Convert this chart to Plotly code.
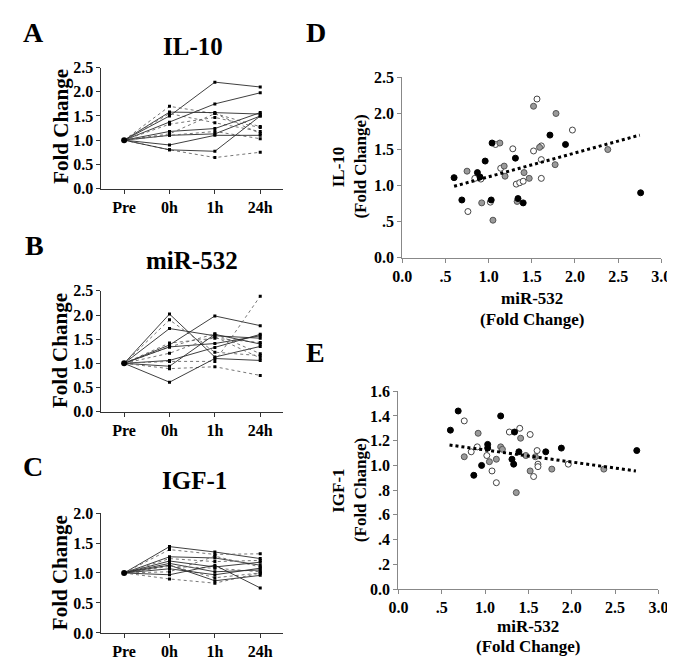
import plotly.graph_objects as go

W, H = 675, 669
FONT = "Liberation Serif"

# ---------------- data ----------------
timepoints = ["Pre", "0h", "1h", "24h"]

# Panel A: IL-10 fold change per subject (Pre = 1.0)
il10_0h = [1.50, 1.70, 1.58, 1.55, 1.37, 1.33, 1.18, 1.13, 1.10, 1.10, 0.90, 0.80, 0.80]
il10_1h = [2.20, 1.55, 1.57, 1.36, 1.75, 1.47, 1.24, 1.55, 1.13, 1.18, 1.10, 0.64, 0.77]
il10_24h = [2.10, 1.28, 1.54, 1.18, 1.98, 1.26, 1.57, 1.14, 1.50, 1.03, 1.10, 0.75, 1.50]

# Panel B: miR-532
mir_0h = [2.02, 1.90, 1.72, 1.42, 1.38, 1.34, 1.34, 1.21, 1.06, 1.04, 0.94, 0.89, 0.61]
mir_1h = [1.13, 1.23, 1.57, 1.52, 1.98, 1.61, 1.41, 1.55, 1.33, 1.04, 1.60, 0.93, 1.10]
mir_24h = [1.35, 1.16, 1.52, 1.43, 1.78, 1.20, 1.57, 1.11, 1.60, 2.39, 1.40, 0.75, 1.06]

# Panel C: IGF-1
igf_0h = [1.44, 1.39, 1.27, 1.24, 1.16, 1.13, 1.13, 1.11, 1.07, 1.02, 0.97, 0.90, 1.20]
igf_1h = [1.35, 1.31, 1.25, 1.19, 1.02, 0.92, 0.87, 1.08, 0.97, 1.28, 1.13, 0.83, 1.10]
igf_24h = [1.24, 1.32, 1.13, 1.21, 1.05, 1.00, 0.96, 1.02, 1.08, 1.10, 0.75, 1.00, 1.18]

# Panel D: miR-532 (x) vs IL-10 (y), three groups
d_black_x = [0.60, 0.69, 0.87, 0.90, 0.96, 1.03, 1.04, 1.31, 1.34, 1.40, 1.71, 1.89, 2.76]
d_black_y = [1.11, 0.80, 1.18, 1.12, 1.34, 0.80, 1.59, 1.38, 0.82, 0.76, 1.70, 1.57, 0.90]
d_gray_x = [0.75, 0.92, 1.05, 1.13, 1.18, 1.19, 1.33, 1.41, 1.47, 1.52, 1.59, 1.77, 1.78, 2.38]
d_gray_y = [1.20, 0.76, 0.52, 1.59, 1.27, 1.13, 0.78, 1.18, 1.10, 2.10, 1.53, 1.29, 2.00, 1.50]
d_open_x = [0.76, 0.84, 0.91, 1.02, 1.08, 1.14, 1.28, 1.32, 1.36, 1.40, 1.52, 1.56, 1.61, 1.61, 1.61, 1.97]
d_open_y = [0.64, 1.10, 1.09, 0.77, 1.57, 1.24, 1.51, 1.02, 1.04, 1.06, 1.48, 2.20, 1.55, 1.36, 1.10, 1.77]
d_trend_x = [0.60, 2.75]
d_trend_y = [0.99, 1.70]

# Panel E: miR-532 (x) vs IGF-1 (y)
e_black_x = [0.60, 0.69, 0.87, 0.96, 1.03, 1.03, 1.18, 1.31, 1.33, 1.34, 1.39, 1.70, 1.88, 2.75]
e_black_y = [1.285, 1.44, 0.92, 1.00, 1.17, 1.14, 1.40, 1.05, 1.01, 1.27, 1.11, 1.11, 1.14, 1.12]
e_gray_x = [0.76, 0.92, 1.05, 1.13, 1.18, 1.20, 1.36, 1.41, 1.47, 1.52, 1.58, 1.77, 2.37]
e_gray_y = [1.07, 1.26, 1.03, 1.05, 1.15, 1.13, 0.78, 1.22, 1.08, 0.955, 1.07, 0.97, 0.97]
e_open_x = [0.76, 0.84, 0.91, 1.02, 1.08, 1.13, 1.28, 1.40, 1.52, 1.56, 1.60, 1.61, 1.61, 1.96]
e_open_y = [1.36, 1.11, 1.15, 1.08, 0.955, 0.86, 1.27, 1.30, 1.25, 0.91, 1.12, 1.01, 0.99, 1.01]
e_trend_x = [0.59, 2.74]
e_trend_y = [1.165, 0.955]

scatter_xticks = [0, 0.5, 1.0, 1.5, 2.0, 2.5, 3.0]
scatter_xlabels = ["0.0", ".5", "1.0", "1.5", "2.0", "2.5", "3.0"]
d_yticks = [0, 0.5, 1.0, 1.5, 2.0, 2.5]
d_ylabels = ["0.0", ".5", "1.0", "1.5", "2.0", "2.5"]
e_yticks = [0, 0.2, 0.4, 0.6, 0.8, 1.0, 1.2, 1.4, 1.6]
e_ylabels = ["0.0", ".2", ".4", ".6", ".8", "1.0", "1.2", "1.4", "1.6"]

# ---------------- figure ----------------
fig = go.Figure()


def px_x(p):
    return p / W


def px_y(p):
    return 1 - p / H


def add_lines(axn, v0, v1, v24):
    xs = list(range(len(timepoints)))
    for i, (a, b, c) in enumerate(zip(v0, v1, v24)):
        solid = (i % 2 == 0)
        fig.add_trace(go.Scatter(
            x=xs, y=[1.0, a, b, c], mode="lines+markers",
            line=dict(color="#2a2a2a" if solid else "#666666", width=0.9,
                      dash="solid" if solid else "dot"),
            marker=dict(color="black", size=3, symbol="square"),
            xaxis="x" + axn, yaxis="y" + axn, showlegend=False, hoverinfo="skip"))
    fig.add_trace(go.Scatter(x=[0], y=[1.0], mode="markers",
                             marker=dict(color="black", size=6),
                             xaxis="x" + axn, yaxis="y" + axn,
                             showlegend=False, hoverinfo="skip"))


add_lines("", il10_0h, il10_1h, il10_24h)
add_lines("2", mir_0h, mir_1h, mir_24h)
add_lines("3", igf_0h, igf_1h, igf_24h)


def add_scatter(axn, bx, by, gx, gy, ox, oy, tx, ty):
    fig.add_trace(go.Scatter(x=ox, y=oy, mode="markers",
                             marker=dict(color="white", size=6, line=dict(color="#444", width=1)),
                             xaxis="x" + axn, yaxis="y" + axn, showlegend=False))
    fig.add_trace(go.Scatter(x=gx, y=gy, mode="markers",
                             marker=dict(color="#9a9a9a", size=6, line=dict(color="#555", width=1)),
                             xaxis="x" + axn, yaxis="y" + axn, showlegend=False))
    fig.add_trace(go.Scatter(x=bx, y=by, mode="markers",
                             marker=dict(color="black", size=6, line=dict(color="black", width=1)),
                             xaxis="x" + axn, yaxis="y" + axn, showlegend=False))
    fig.add_trace(go.Scatter(x=tx, y=ty, mode="lines",
                             line=dict(color="black", width=3, dash="dot"),
                             xaxis="x" + axn, yaxis="y" + axn, showlegend=False))


add_scatter("4", d_black_x, d_black_y, d_gray_x, d_gray_y, d_open_x, d_open_y, d_trend_x, d_trend_y)
add_scatter("5", e_black_x, e_black_y, e_gray_x, e_gray_y, e_open_x, e_open_y, e_trend_x, e_trend_y)

tickfont_line = dict(family=FONT, size=16, color="black", weight="bold")
tickfont_sc = dict(family=FONT, size=16, color="black", weight="bold")

common_line = dict(showline=True, linecolor="#333", linewidth=1, ticks="outside",
                   ticklen=4, tickcolor="#333", showgrid=False, zeroline=False,
                   tickfont=tickfont_line)
common_sc = dict(showline=True, linecolor="#888", linewidth=1.2, ticks="outside",
                 ticklen=4, tickcolor="#888", showgrid=False, zeroline=False,
                 tickfont=tickfont_sc)

line_x_dom = [px_x(86), px_x(273)]
panels = [("", 53, 177, [0, 2.5], [0, 0.5, 1.0, 1.5, 2.0, 2.5]),
          ("2", 282, 406, [0, 2.5], [0, 0.5, 1.0, 1.5, 2.0, 2.5]),
          ("3", 510, 633, [0, 2.0], [0, 0.5, 1.0, 1.5, 2.0])]
layout_axes = {}
for n, top, bot, yr, yt in panels:
    xk = "xaxis" + n
    yk = "yaxis" + n
    layout_axes[xk] = dict(common_line, domain=line_x_dom, range=[-0.5, 3.5],
                           tickvals=list(range(len(timepoints))), ticktext=timepoints,
                           anchor="y" + n)
    layout_axes[yk] = dict(common_line, domain=[px_y(bot), px_y(top)], range=yr,
                           tickvals=yt, ticktext=["%.1f" % v for v in yt],
                           anchor="x" + n)

layout_axes["xaxis4"] = dict(common_sc, domain=[px_x(396), px_x(663)], range=[0, 3.0],
                             tickvals=scatter_xticks, ticktext=scatter_xlabels, anchor="y4")
layout_axes["yaxis4"] = dict(common_sc, domain=[px_y(248), px_y(63)], range=[0, 2.5],
                             tickvals=d_yticks, ticktext=d_ylabels, anchor="x4")
layout_axes["xaxis5"] = dict(common_sc, domain=[px_x(392), px_x(660)], range=[0, 3.0],
                             tickvals=scatter_xticks, ticktext=scatter_xlabels, anchor="y5")
layout_axes["yaxis5"] = dict(common_sc, domain=[px_y(588), px_y(385)], range=[0, 1.6],
                             tickvals=e_yticks, ticktext=e_ylabels, anchor="x5")


def ann(text, x, y, size, angle=0):
    return dict(text="<b>" + text + "</b>", x=px_x(x), y=px_y(y), xref="paper", yref="paper",
                showarrow=False, xanchor="center", yanchor="middle", textangle=angle,
                font=dict(family=FONT, size=size, color="black"))


annotations = [
    ann("A", 16, 17, 28), ann("B", 17, 235, 28), ann("C", 15, 462, 28),
    ann("D", 307, 17, 28), ann("E", 307, 345, 28),
    ann("IL-10", 180, 31, 25), ann("miR-532", 179, 251, 25), ann("IGF-1", 182, 477, 25),
    ann("Fold Change", 44, 113, 21, -90), ann("Fold Change", 44, 343, 21, -90),
    ann("Fold Change", 44, 571, 21, -90),
    ann("miR-532", 530, 290, 17), ann("(Fold Change)", 530, 311, 17),
    ann("IL-10", 330, 155, 17, -90), ann("(Fold Change)", 353, 155, 17, -90),
    ann("miR-532", 526, 626, 17), ann("(Fold Change)", 526, 647, 17),
    ann("IGF-1", 330, 487, 17, -90), ann("(Fold Change)", 353, 487, 17, -90),
]

fig.update_layout(width=W, height=H, autosize=False,
                  margin=dict(l=0, r=0, t=0, b=0),
                  paper_bgcolor="white", plot_bgcolor="white",
                  annotations=annotations, **layout_axes)

fig.write_html("out.html")
